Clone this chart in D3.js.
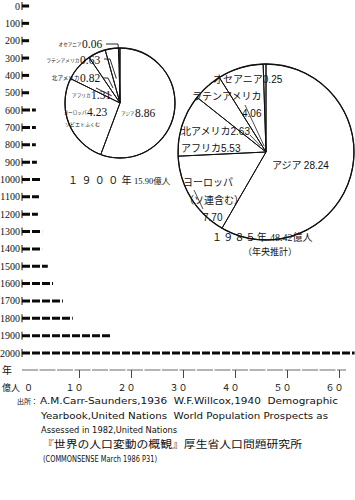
<!DOCTYPE html>
<html>
<head>
<meta charset="utf-8">
<script src="https://cdn.jsdelivr.net/npm/d3@7"></script>
<style>
  body { margin: 0; background: #fff; }
  svg { display: block; }
  text { fill: #111; }
</style>
</head>
<body>
<svg id="chart" width="355" height="500"></svg>
<script>
// world population by year (億人)
const years = [0, 100, 200, 300, 400, 500, 600, 700, 800, 900, 1000,
  1100, 1200, 1300, 1400, 1500, 1600, 1700, 1800, 1900, 2000];
const population = [0.4, 0.4, 0.4, 0.4, 0.4, 0.4, 1.7, 1.7, 1.7, 1.9, 2.5,
  2.3, 2.1, 2.9, 2.9, 4.0, 5.0, 6.9, 8.8, 16.0, 63];
const xTicks = [0, 10, 20, 30, 40, 50, 60];

// pies, clockwise from 12 o'clock
const regions1900 = ['アジア', 'ヨーロッパ', 'アフリカ', '北アメリカ', 'ラテンアメリカ', 'オセアニア'];
const values1900 = [8.86, 4.23, 1.31, 0.82, 0.63, 0.06];
const regions1985 = ['アジア', 'ヨーロッパ', 'アフリカ', '北アメリカ', 'ラテンアメリカ', 'オセアニア'];
const values1985 = [28.24, 7.70, 5.53, 2.63, 4.06, 0.25];
const totals = ['15.90', '48.42'];

const notes = [
  'A.M.Carr-Saunders,1936  W.F.Willcox,1940  Demographic',
  'Yearbook,United Nations  World Population Prospects as',
  'Assessed in 1982,United Nations'
];

const svg = d3.select('#chart');
const serif = '"Liberation Serif", "DejaVu Serif", serif';
const jp = '"Noto Sans CJK JP", sans-serif';

const x = d3.scaleLinear().domain([0, 60]).range([27, 339]);
const y = d3.scalePoint().domain(years).range([6, 353]);
const axisX = 22;

// year labels + little axis marks
const rows = svg.append('g');
rows.selectAll('text')
  .data(years)
  .join('text')
  .attr('x', 20)
  .attr('y', d => y(d) + 3.5)
  .attr('text-anchor', 'end')
  .attr('font-family', serif)
  .attr('font-size', 10)
  .text(d => d);

rows.selectAll('line.mark')
  .data(years)
  .join('line')
  .attr('class', 'mark')
  .attr('x1', axisX).attr('x2', axisX)
  .attr('y1', d => y(d) - 4).attr('y2', d => y(d) + 4)
  .attr('stroke', '#111').attr('stroke-width', 1);

// dashed bars
rows.selectAll('line.bar')
  .data(years)
  .join('line')
  .attr('class', 'bar')
  .attr('x1', axisX)
  .attr('x2', (d, i) => x(population[i]))
  .attr('y1', d => y(d)).attr('y2', d => y(d))
  .attr('stroke', '#0a0a0a')
  .attr('stroke-width', 3)
  .attr('stroke-dasharray', '8,2');

// bottom axis
const fw = d => String(d).replace(/[0-9]/g, c => String.fromCharCode(c.charCodeAt(0) + 0xFEE0));
const xg = svg.append('g')
  .attr('transform', 'translate(0,370)')
  .call(d3.axisBottom(x).tickValues(xTicks).tickSize(8).tickPadding(6.5).tickFormat(fw));
xg.select('.domain').remove();
xg.selectAll('.tick line').attr('stroke', '#333').attr('stroke-width', 0.9);
xg.selectAll('.tick').filter(d => d === 0).select('line').remove();
xg.selectAll('.tick text')
  .attr('font-family', jp)
  .attr('font-size', 9)
  .attr('fill', '#111')
  .attr('dx', d => d === 0 ? 1 : -5);
xg.append('line')
  .attr('x1', axisX).attr('x2', 346)
  .attr('stroke', '#444').attr('stroke-width', 0.8)
  .attr('stroke-dasharray', '16,1.5');

svg.append('text').attr('x', 2).attr('y', 374)
  .attr('font-family', jp).attr('font-size', 10).text('年');
svg.append('text').attr('x', 2).attr('y', 391)
  .attr('font-family', jp).attr('font-size', 9).text('億人');

// pies
const pie = d3.pie().sort(null).value(d => d);

function drawPie(cx, cy, r, values) {
  const g = svg.append('g').attr('transform', `translate(${cx},${cy})`);
  const slices = pie(values);
  g.selectAll('path')
    .data(slices)
    .join('path')
    .attr('d', d3.arc().innerRadius(0).outerRadius(r))
    .attr('fill', 'none')
    .attr('stroke', '#111')
    .attr('stroke-width', 1);
  g.append('circle').attr('r', r)
    .attr('fill', 'none').attr('stroke', '#111').attr('stroke-width', 1.3);
  return slices;
}

const c1 = { x: 120, y: 103, r: 55 };
const c2 = { x: 266, y: 152, r: 88 };
const s1900 = drawPie(c1.x, c1.y, c1.r, values1900);
const s1985 = drawPie(c2.x, c2.y, c2.r, values1985);

// 1900 labels: tiny names, bigger numbers
const pos1900 = [[135, 113], [87, 112], [91, 95], [80, 78], [80, 60], [82, 44]];
const nameSize1900 = [4.5, 4.6, 4.6, 5.6, 4.8, 4.6];
const l1900 = svg.append('g');
regions1900.forEach((name, i) => {
  const [px, py] = pos1900[i];
  l1900.append('text')
    .attr('x', px - 0.5).attr('y', py + 2)
    .attr('text-anchor', 'end')
    .attr('font-family', jp).attr('font-size', nameSize1900[i])
    .text(name);
  l1900.append('text')
    .attr('x', px).attr('y', py + 4)
    .attr('font-family', serif).attr('font-size', 11.5)
    .text(values1900[i].toFixed(2));
});
l1900.append('text')
  .attr('x', 65).attr('y', 126)
  .attr('font-family', jp).attr('font-size', 5)
  .text('ソビエトふくむ');

const at = (s, c, rr) => {
  const p = d3.arc().innerRadius(rr).outerRadius(rr).centroid(s);
  return [c.x + p[0], c.y + p[1]];
};
const lead = d3.line();
const leaders1900 = [
  [[106, 44], [118, 44], at(s1900[5], c1, c1.r * 0.72)],
  [[104, 59], [110, 59], at(s1900[4], c1, c1.r * 0.45)],
  [[103, 78], [108, 78], at(s1900[3], c1, c1.r * 0.3)],
  [[96, 88], at(s1900[2], c1, c1.r * 0.2)]
];
svg.append('g').selectAll('path')
  .data(leaders1900)
  .join('path')
  .attr('d', lead)
  .attr('fill', 'none').attr('stroke', '#111').attr('stroke-width', 0.9);

// 1985 labels
const l1985 = svg.append('g')
  .attr('font-family', jp).attr('font-size', 10);
const numFont = '"Liberation Sans", "DejaVu Sans", sans-serif';
const lab = (tx, ty, name, num) => {
  const t = l1985.append('text').attr('x', tx).attr('y', ty + 3.5);
  if (name) t.append('tspan').text(name);
  if (num) t.append('tspan').attr('font-family', numFont).text(num);
};
lab(213, 79, regions1985[5], values1985[5].toFixed(2));
lab(192, 96, regions1985[4], null);
lab(242, 113, null, values1985[4].toFixed(2));
lab(181, 131, regions1985[3], values1985[3].toFixed(2));
lab(181, 148, regions1985[2], values1985[2].toFixed(2));
lab(272, 165, regions1985[0] + ' ', values1985[0].toFixed(2));
lab(183, 182, regions1985[1], null);
lab(184, 200, '（ソ連含む）', null);
lab(203, 217, null, values1985[1].toFixed(2));

const leaders1985 = [
  [[245, 105], at(s1985[4], c2, 6)],
  [[250, 135], at(s1985[3], c2, 8)],
  [[194, 190], [203, 209]]
];
svg.append('g').selectAll('path')
  .data(leaders1985)
  .join('path')
  .attr('d', lead)
  .attr('fill', 'none').attr('stroke', '#222').attr('stroke-width', 0.8);

// pie titles
const title = (tx, ty, yr, spacing, gap, total, size) => {
  const t = svg.append('text').attr('x', tx).attr('y', ty)
    .attr('font-family', jp).attr('font-size', 10);
  t.append('tspan').attr('letter-spacing', spacing).text(fw(yr) + '年');
  t.append('tspan').attr('dx', gap).attr('font-family', serif).attr('font-size', size).text(total);
  t.append('tspan').attr('font-size', size).text('億人');
};
title(68, 183.5, 1900, 3.4, -1, totals[0], 8.5);
title(212, 240.5, 1985, 1.2, 2, totals[1], 10);
svg.append('text').attr('x', 243).attr('y', 254.5)
  .attr('font-family', jp).attr('font-size', 9).text('（年央推計）');

// source notes
const noteFont = '"DejaVu Sans", sans-serif';
svg.append('text').attr('x', 17).attr('y', 403.5)
  .attr('font-family', jp).attr('font-size', 7)
  .text('出所：');
const starts = [40, 41, 41];
const widths = [298, 287, 136];
notes.forEach((n, i) => {
  svg.append('text')
    .attr('x', starts[i]).attr('y', 404 + i * 14.5)
    .attr('font-family', noteFont).attr('font-size', 8.2)
    .attr('textLength', widths[i]).attr('lengthAdjust', 'spacingAndGlyphs')
    .attr('xml:space', 'preserve')
    .text(n);
});
svg.append('text').attr('x', 42).attr('y', 448)
  .attr('font-family', jp).attr('font-size', 10.5)
  .attr('textLength', 260).attr('lengthAdjust', 'spacingAndGlyphs')
  .text('『世界の人口変動の概観』厚生省人口問題研究所');
svg.append('text').attr('x', 43).attr('y', 462)
  .attr('font-family', noteFont).attr('font-size', 8.2)
  .attr('textLength', 114).attr('lengthAdjust', 'spacingAndGlyphs')
  .text('(COMMONSENSE March 1986 P31)');
</script>
</body>
</html>
